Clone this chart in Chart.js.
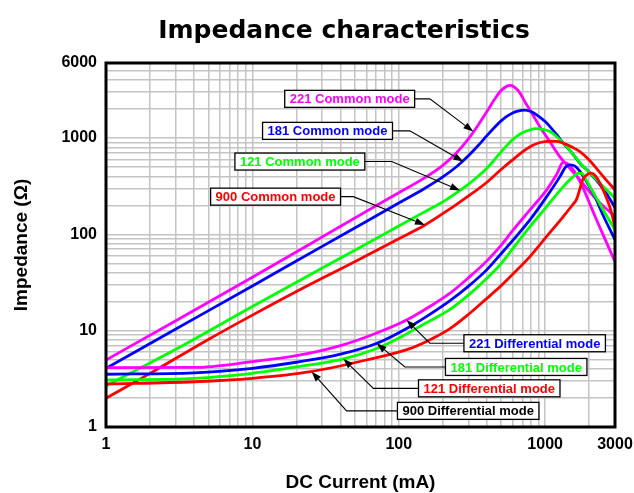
<!DOCTYPE html>
<html>
<head>
<meta charset="utf-8">
<script src="https://cdn.jsdelivr.net/npm/chart.js@4.4.1/dist/chart.umd.min.js"></script>
<style>
  html, body { margin: 0; padding: 0; background: #fff; }
  #wrap { width: 634px; height: 493px; }
</style>
</head>
<body>
<div id="wrap"><canvas id="chart" width="634" height="493"></canvas></div>
<script>
// grid lines and labelled ticks
const xGridValues = [1, 2, 3, 4, 5, 6, 7, 8, 9, 10, 20, 30, 40, 50, 60, 70, 80, 90,
    100, 200, 300, 400, 500, 600, 700, 800, 900, 1000, 2000, 3000];
const yGridValues = [1, 2, 3, 4, 5, 6, 7, 8, 9, 10, 20, 30, 40, 50, 60, 70, 80, 90,
    100, 200, 300, 400, 500, 600, 700, 800, 900, 1000, 2000, 3000, 4000, 5000, 6000];
const xLabelValues = [1, 10, 100, 1000, 3000];
const yLabelValues = [1, 10, 100, 1000, 6000];

// common mode curves (current mA, impedance ohm)
const cm221Current = [1, 3, 10, 30, 60, 100, 150, 200, 250, 300, 350, 400, 450, 500, 550, 580, 620, 672, 730, 787, 850, 921, 1000, 1078, 1262, 1500, 1729, 2000, 2367, 3000];
const cm221Impedance = [4.96, 12.7, 35.9, 94, 173, 270, 385, 520, 711, 986, 1374, 1879, 2506, 3112, 3451, 3508, 3350, 2940, 2350, 1958, 1600, 1303, 1080, 912, 637, 470, 367, 280, 212, 153];
const cm181Current = [1, 3, 10, 30, 60, 100, 150, 200, 250, 300, 350, 400, 450, 500, 550, 600, 650, 720, 800, 875, 1000, 1078, 1200, 1330, 1500, 1729, 2000, 2248, 2600, 3000];
const cm181Impedance = [4.07, 10.4, 29.1, 75, 136, 211, 299, 394, 509, 658, 841, 1057, 1282, 1503, 1683, 1820, 1901, 1950, 1880, 1738, 1480, 1313, 1080, 883, 720, 547, 440, 360, 270, 190];
const cm121Current = [1, 3, 10, 30, 60, 100, 150, 200, 250, 300, 350, 400, 450, 500, 550, 600, 650, 700, 780, 860, 950, 1078, 1200, 1403, 1600, 1820, 2100, 2367, 3000];
const cm121Impedance = [2.67, 6.4, 17.8, 44.6, 79.4, 122, 171, 217, 272, 332, 403, 485, 593, 718, 843, 962, 1059, 1132, 1210, 1250, 1235, 1165, 1030, 814, 640, 505, 410, 339, 237];
const cm900Current = [1, 2, 5, 10, 20, 50, 100, 151, 236, 300, 400, 500, 600, 700, 800, 900, 1000, 1100, 1200, 1330, 1500, 1729, 2000, 2248, 2600, 3000];
const cm900Impedance = [1.99, 3.6, 8.1, 14.5, 25.5, 52, 90, 125, 194, 250, 347, 470, 593, 719, 822, 887, 916, 925, 920, 883, 815, 722, 590, 480, 370, 289];

// differential mode curves
const dm221Current = [1, 4, 10, 20, 40, 70, 113, 160, 224, 300, 400, 491, 605, 787, 1024, 1200, 1330, 1420, 1556, 1700, 1820, 2023, 2250, 2494, 3000];
const dm221Impedance = [4.13, 4.15, 4.77, 5.5, 7.0, 9.4, 12.9, 17.5, 24.5, 35.5, 53, 74.5, 111, 179, 289, 420, 560, 540, 466, 370, 300, 205, 140, 98, 52];
const dm181Current = [1, 4, 10, 20, 40, 71, 119, 160, 224, 300, 400, 491, 605, 787, 1024, 1262, 1380, 1480, 1600, 1729, 1900, 2132, 2500, 3000];
const dm181Impedance = [3.53, 3.65, 4.07, 4.7, 5.7, 7.4, 11.0, 14.5, 20.5, 29, 43, 61, 87.5, 141, 246, 397, 500, 526, 510, 450, 360, 267, 155, 88];
const dm121Current = [1, 4, 10, 20, 42, 70, 102, 150, 224, 300, 400, 491, 605, 787, 1024, 1330, 1556, 1680, 1780, 1900, 2023, 2250, 2494, 3000];
const dm121Impedance = [3.08, 3.2, 3.61, 4.2, 5.1, 6.5, 8.5, 11.8, 16.6, 23.5, 35, 48, 72, 120, 194, 313, 397, 428, 430, 370, 313, 235, 179, 111];
const dm900Current = [1, 4, 10, 25, 60, 119, 170, 224, 300, 398, 491, 605, 787, 1024, 1330, 1550, 1641, 1720, 1800, 1922, 2080, 2200, 2367, 2550, 2772, 3000];
const dm900Impedance = [2.8, 2.95, 3.2, 3.75, 4.96, 6.5, 8.3, 10.5, 14.8, 21.5, 28.5, 39, 58.7, 95, 153, 205, 232, 290, 365, 414, 431, 405, 340, 265, 190, 120];

const MAGENTA = '#ff00ff', BLUE = '#0000ff', GREEN = '#00ff00', RED = '#ff0000';

// label boxes with leader arrows, placed in data coordinates
const notes = [
    { text: '221 Common mode', color: MAGENTA, at: [46.2, 2547], elbow: [163, 2547], tip: [323, 1165], side: 'right' },
    { text: '181 Common mode', color: BLUE, at: [32.6, 1185], elbow: [119, 1185], tip: [276, 569], side: 'right' },
    { text: '121 Common mode', color: GREEN, at: [21.1, 569], elbow: [89.5, 569], tip: [262, 285], side: 'right' },
    { text: '900 Common mode', color: RED, at: [14.4, 246], elbow: [48.9, 246], tip: [151, 125], side: 'right' },
    { text: '221 Differential mode', color: BLUE, at: [848, 7.4], elbow: [163, 7.4], tip: [113, 12.9], side: 'left' },
    { text: '181 Differential mode', color: GREEN, at: [634, 4.2], elbow: [110, 4.2], tip: [70.7, 7.4], side: 'left' },
    { text: '121 Differential mode', color: RED, at: [415, 2.52], elbow: [67, 2.52], tip: [41.8, 5.1], side: 'left' },
    { text: '900 Differential mode', color: '#000000', at: [298, 1.47], elbow: [44, 1.47], tip: [25.4, 3.75], side: 'left' }
];

function pairs(xs, ys) {
    return xs.map((x, i) => ({ x: x, y: ys[i] }));
}

function series(label, xs, ys, color) {
    return {
        label: label,
        data: pairs(xs, ys),
        borderColor: color,
        backgroundColor: color,
        borderWidth: 2.8,
        pointRadius: 0,
        cubicInterpolationMode: 'monotone',
        fill: false
    };
}

function setTicks(values) {
    return function (scale) {
        scale.ticks = values.map(v => ({ value: v }));
    };
}

const overlay = {
    id: 'overlay',
    afterDatasetsDraw(chart) {
        const { ctx, chartArea: a } = chart;
        ctx.save();
        ctx.strokeStyle = '#000';
        ctx.lineWidth = 3;
        ctx.strokeRect(a.left, a.top, a.right - a.left, a.bottom - a.top);
        ctx.restore();
    },
    afterDraw(chart) {
        const ctx = chart.ctx;
        const xs = chart.scales.x, ys = chart.scales.y;
        const px = p => [xs.getPixelForValue(p[0]), ys.getPixelForValue(p[1])];

        ctx.save();
        ctx.fillStyle = '#000';
        ctx.font = 'bold 25px "DejaVu Sans", sans-serif';
        ctx.textAlign = 'center';
        ctx.textBaseline = 'middle';
        ctx.fillText('Impedance characteristics', 344, 31);

        ctx.font = 'bold 13px "Liberation Sans", Arial, sans-serif';
        notes.forEach(n => {
            const [cx, cy] = px(n.at);
            const w = ctx.measureText(n.text).width + 10;
            const h = 17;
            const start = n.side === 'right' ? cx + w / 2 : cx - w / 2;
            const [ex, ey] = px(n.elbow);
            const [tx, ty] = px(n.tip);

            // leader line
            ctx.strokeStyle = '#000';
            ctx.lineWidth = 1.1;
            ctx.beginPath();
            ctx.moveTo(start, cy);
            ctx.lineTo(ex, ey);
            const ang = Math.atan2(ty - ey, tx - ex);
            const len = 10;
            ctx.lineTo(tx - len * Math.cos(ang), ty - len * Math.sin(ang));
            ctx.stroke();
            ctx.fillStyle = '#000';
            ctx.beginPath();
            ctx.moveTo(tx, ty);
            ctx.lineTo(tx - len * Math.cos(ang) + 3.5 * Math.sin(ang), ty - len * Math.sin(ang) - 3.5 * Math.cos(ang));
            ctx.lineTo(tx - len * Math.cos(ang) - 3.5 * Math.sin(ang), ty - len * Math.sin(ang) + 3.5 * Math.cos(ang));
            ctx.closePath();
            ctx.fill();

            // box
            ctx.fillStyle = '#fff';
            ctx.fillRect(cx - w / 2, cy - h / 2, w, h);
            ctx.lineWidth = 1.3;
            ctx.strokeRect(cx - w / 2, cy - h / 2, w, h);
            ctx.fillStyle = n.color;
            ctx.textAlign = 'center';
            ctx.textBaseline = 'middle';
            ctx.fillText(n.text, cx, cy + 1);
        });
        ctx.restore();
    }
};

Chart.defaults.font.family = '"Liberation Sans", Arial, sans-serif';
Chart.defaults.color = '#000';

new Chart(document.getElementById('chart'), {
    type: 'line',
    data: {
        datasets: [
            series('900 Differential mode', dm900Current, dm900Impedance, RED),
            series('121 Differential mode', dm121Current, dm121Impedance, GREEN),
            series('181 Differential mode', dm181Current, dm181Impedance, BLUE),
            series('221 Differential mode', dm221Current, dm221Impedance, MAGENTA),
            series('900 Common mode', cm900Current, cm900Impedance, RED),
            series('121 Common mode', cm121Current, cm121Impedance, GREEN),
            series('181 Common mode', cm181Current, cm181Impedance, BLUE),
            series('221 Common mode', cm221Current, cm221Impedance, MAGENTA)
        ]
    },
    options: {
        responsive: false,
        animation: false,
        layout: { padding: { top: 63, right: 19, bottom: 0, left: 0 } },
        plugins: {
            legend: { display: false },
            tooltip: { enabled: false }
        },
        scales: {
            x: {
                type: 'logarithmic',
                min: 1,
                max: 3000,
                afterBuildTicks: setTicks(xGridValues),
                afterFit: s => { s.height = 66; s.paddingLeft = 0; s.paddingRight = 0; },
                grid: { color: '#c4c4c4', lineWidth: 1.5, drawTicks: false },
                border: { display: false },
                ticks: {
                    autoSkip: false,
                    maxRotation: 0,
                    padding: 8,
                    font: { size: 16, weight: 'bold' },
                    callback: v => xLabelValues.includes(v) ? String(v) : ''
                },
                title: {
                    display: true,
                    text: 'DC Current (mA)',
                    font: { size: 19, weight: 'bold', lineHeight: 1 },
                    padding: { top: 0, bottom: 1 }
                }
            },
            y: {
                type: 'logarithmic',
                min: 1,
                max: 6000,
                afterBuildTicks: setTicks(yGridValues),
                afterFit: s => { s.width = 106; s.paddingTop = 0; s.paddingBottom = 0; },
                grid: { color: '#c4c4c4', lineWidth: 1.5, drawTicks: false },
                border: { display: false },
                ticks: {
                    autoSkip: false,
                    padding: 9,
                    font: { size: 16, weight: 'bold' },
                    callback: v => yLabelValues.includes(v) ? String(v) : ''
                },
                title: {
                    display: true,
                    text: 'Impedance (Ω)',
                    font: { size: 19, weight: 'bold', lineHeight: 1 },
                    padding: { top: 12, bottom: 0 }
                }
            }
        }
    },
    plugins: [overlay]
});
</script>
</body>
</html>
